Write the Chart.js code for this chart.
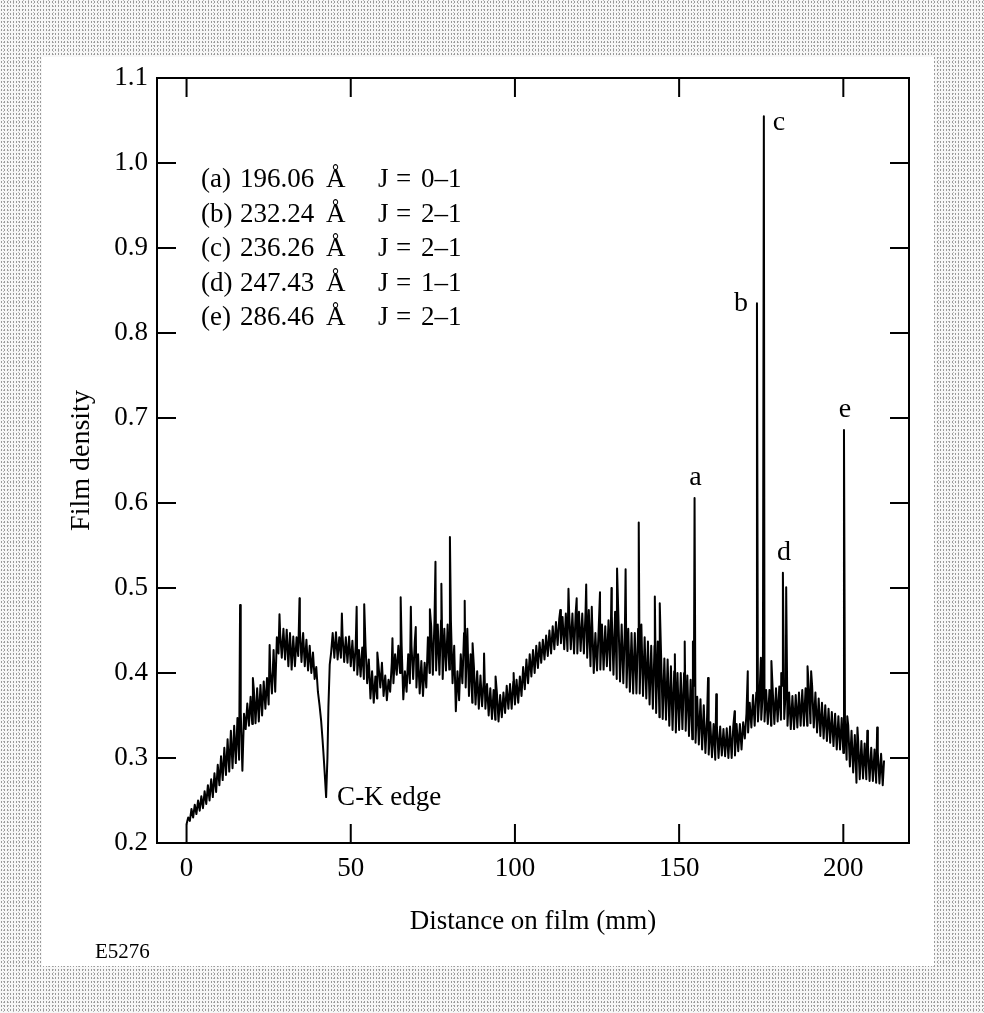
<!DOCTYPE html>
<html>
<head>
<meta charset="utf-8">
<title>Film density vs distance on film</title>
<script src="https://cdn.jsdelivr.net/npm/chart.js@4.4.0/dist/chart.umd.min.js"></script>
<style>
  html, body { margin: 0; padding: 0; }
  body {
    width: 984px; height: 1013px; position: relative; overflow: hidden;
    background:
      radial-gradient(circle, #9a9a9a 0.55px, transparent 0.9px) 0 0 / 3px 4px,
      radial-gradient(circle, #b8b8b8 0.55px, transparent 0.9px) 1px 2px / 5px 3px,
      #f7f7f7;
  }
  #panel { position: absolute; left: 42px; top: 57px; width: 892px; height: 909px; background: #fff; }
  #filmChart { position: absolute; left: 0; top: 0; }
</style>
</head>
<body>
<div id="panel"></div>
<canvas id="filmChart" width="984" height="1013"></canvas>
<script>
// axis ticks
const xTicks = [0, 50, 100, 150, 200];
const xTickLabels = ['0', '50', '100', '150', '200'];
const yTicks = [0.2, 0.3, 0.4, 0.5, 0.6, 0.7, 0.8, 0.9, 1.0, 1.1];
const yTickLabels = ['0.2', '0.3', '0.4', '0.5', '0.6', '0.7', '0.8', '0.9', '1.0', '1.1'];

// noisy trace: [distance mm, film density], low/high every 0.5 mm
const bandPoints = [
  [0,.222],[0.5,.230],[1,.226],[1.5,.240],[2,.230],[2.5,.245],[3,.234],[3.5,.250],[4,.238],[4.5,.255],
  [5,.241],[5.5,.261],[6,.246],[6.5,.268],[7,.250],[7.5,.275],[8,.254],[8.5,.282],[9,.260],[9.5,.292],
  [10,.268],[10.5,.302],[11,.274],[11.5,.312],[12,.280],[12.5,.322],[13,.284],[13.5,.332],[14,.288],[14.5,.338],
  [15,.294],[15.5,.347],[16,.298],[16.5,.354],[17,.285],[17.5,.352],[18,.334],[18.5,.364],[19,.338],[19.5,.372],
  [20,.340],[20.5,.380],[21,.341],[21.5,.382],[22,.343],[22.5,.386],[23,.350],[23.5,.390],[24,.358],[24.5,.394],
  [25,.363],[25.5,.402],[26,.376],[26.5,.427],[27,.378],[27.5,.442],[28,.423],[28.5,.447],[29,.418],[29.5,.452],
  [30,.416],[30.5,.451],[31,.408],[31.5,.447],[32,.404],[32.5,.443],[33,.408],[33.5,.442],[34,.420],[34.5,.451],
  [35,.413],[35.5,.447],[36,.408],[36.5,.439],[37,.403],[37.5,.432],[38,.400],[38.5,.424],[39,.393],[39.5,.407],
  [40,.378],[40.5,.362],[41,.343],[41.4,.322],[41.7,.305],[42.1,.280],[42.5,.254],[42.9,.300],[43.2,.360],[43.6,.410],
  [44,.423],[44.5,.447],[45,.418],[45.5,.448],[46,.416],[46.5,.442],[47,.418],[47.5,.444],[48,.413],[48.5,.442],
  [49,.412],[49.5,.443],
  [50,.408],[50.5,.438],[51,.403],[51.5,.432],[52,.398],[52.5,.427],[53,.396],[53.5,.430],[54,.393],[54.5,.432],
  [55,.388],[55.5,.416],[56,.370],[56.5,.402],[57,.365],[57.5,.396],[58,.370],[58.5,.407],[59,.383],[59.5,.412],
  [60,.373],[60.5,.397],[61,.368],[61.5,.392],[62,.378],[62.5,.412],[63,.388],[63.5,.422],[64,.398],[64.5,.432],
  [65,.400],[65.5,.432],[66,.369],[66.5,.402],[67,.378],[67.5,.422],[68,.388],[68.5,.432],[69,.393],[69.5,.437],
  [70,.383],[70.5,.422],[71,.376],[71.5,.414],[72,.373],[72.5,.412],[73,.383],[73.5,.442],[74,.400],[74.5,.455],
  [75,.398],[75.5,.462],[76,.403],[76.5,.457],[77,.398],[77.5,.462],[78,.393],[78.5,.452],[79,.403],[79.5,.457],
  [80,.404],[80.5,.462],[81,.388],[81.5,.432],[82,.355],[82.5,.402],[83,.368],[83.5,.422],[84,.388],[84.5,.447],
  [85,.383],[85.5,.452],[86,.373],[86.5,.422],[87,.365],[87.5,.408],[88,.363],[88.5,.402],[89,.358],[89.5,.397],
  [90,.361],[90.5,.392],[91,.358],[91.5,.387],[92,.350],[92.5,.382],[93,.346],[93.5,.380],[94,.345],[94.5,.377],
  [95,.343],[95.5,.374],[96,.348],[96.5,.377],[97,.353],[97.5,.385],[98,.358],[98.5,.387],[99,.358],[99.5,.390],
  [100,.363],[100.5,.392],[101,.365],[101.5,.396],[102,.373],[102.5,.407],[103,.381],[103.5,.416],[104,.388],[104.5,.422],
  [105,.396],[105.5,.427],[106,.400],[106.5,.432],[107,.406],[107.5,.436],[108,.412],[108.5,.439],[109,.416],[109.5,.444],
  [110,.420],[110.5,.450],[111,.423],[111.5,.455],[112,.428],[112.5,.460],[113,.433],[113.5,.464],[114,.435],[114.5,.466],
  [115,.428],[115.5,.470],[116,.426],[116.5,.472],[117,.428],[117.5,.470],[118,.423],[118.5,.471],[119,.423],[119.5,.472],
  [120,.426],[120.5,.470],[121,.423],[121.5,.472],[122,.418],[122.5,.474],[123,.408],[123.5,.462],[124,.400],[124.5,.447],
  [125,.403],[125.5,.452],[126,.404],[126.5,.457],[127,.404],[127.5,.455],[128,.408],[128.5,.462],[129,.403],[129.5,.467],
  [130,.398],[130.5,.472],[131,.393],[131.5,.467],[132,.390],[132.5,.457],[133,.388],[133.5,.457],[134,.383],[134.5,.452],
  [135,.378],[135.5,.447],[136,.376],[136.5,.447],[137,.376],[137.5,.452],[138,.376],[138.5,.457],[139,.373],[139.5,.442],
  [140,.370],[140.5,.437],[141,.363],[141.5,.432],[142,.358],[142.5,.432],[143,.353],[143.5,.437],[144,.348],[144.5,.422],
  [145,.346],[145.5,.417],[146,.345],[146.5,.416],[147,.338],[147.5,.408],[148,.333],[148.5,.402],[149,.330],[149.5,.400],
  [150,.333],[150.5,.400],[151,.334],[151.5,.400],[152,.332],[152.5,.397],[153,.326],[153.5,.392],[154,.322],[154.5,.385],
  [155,.318],[155.5,.372],[156,.316],[156.5,.369],[157,.310],[157.5,.362],[158,.306],[158.5,.347],[159,.304],[159.5,.342],
  [160,.301],[160.5,.340],[161,.298],[161.5,.338],[162,.300],[162.5,.337],[163,.303],[163.5,.334],[164,.302],[164.5,.335],
  [165,.300],[165.5,.337],[166,.300],[166.5,.338],[167,.303],[167.5,.340],[168,.308],[168.5,.340],[169,.310],[169.5,.342],
  [170,.323],[170.5,.352],[171,.330],[171.5,.365],[172,.336],[172.5,.374],[173,.338],[173.5,.377],[174,.343],[174.5,.377],
  [175,.345],[175.5,.377],[176,.343],[176.5,.380],[177,.340],[177.5,.380],[178,.338],[178.5,.380],[179,.340],[179.5,.382],
  [180,.343],[180.5,.384],[181,.345],[181.5,.385],[182,.346],[182.5,.382],[183,.338],[183.5,.377],[184,.334],[184.5,.373],
  [185,.334],[185.5,.374],[186,.336],[186.5,.377],[187,.338],[187.5,.380],[188,.338],[188.5,.382],[189,.338],[189.5,.382],
  [190,.341],[190.5,.385],[191,.336],[191.5,.377],[192,.330],[192.5,.370],[193,.326],[193.5,.365],[194,.323],[194.5,.362],
  [195,.320],[195.5,.358],[196,.318],[196.5,.354],[197,.314],[197.5,.352],[198,.310],[198.5,.349],[199,.310],[199.5,.347],
  [200,.306],[200.5,.344],[201,.298],[201.5,.338],[202,.290],[202.5,.332],[203,.283],[203.5,.327],[204,.271],[204.5,.322],
  [205,.275],[205.5,.320],[206,.276],[206.5,.317],[207,.275],[207.5,.314],[208,.273],[208.5,.312],[209,.273],[209.5,.310],
  [210,.271],[210.5,.307],[211,.270],[211.5,.305],[212,.268],[212.4,.297]
];

// narrow unlabelled spikes: [distance mm, peak density]
const spikePoints = [
  [16.3,.480],[20.2,.394],[25.3,.433],[28.3,.469],[34.4,.488],[47.3,.470],[51.8,.478],[54.1,.481],
  [58.1,.424],[62.7,.441],[65.2,.489],[68.3,.478],[69.8,.454],[74.1,.475],[75.8,.531],[77.6,.505],
  [80.2,.560],[84.7,.485],[87.1,.435],[90.6,.423],[94.1,.396],[99.6,.400],[113.8,.474],[116.3,.499],
  [118.8,.488],[121.7,.504],[123.4,.478],[125.9,.495],[129.4,.500],[131.1,.523],[133.7,.522],[137.7,.577],
  [142.6,.490],[144.1,.482],[148.7,.422],[151.7,.437],[154.2,.437],[158.8,.394],[161.3,.375],[166.9,.355],
  [170.9,.402],[174.9,.418],[178.1,.414],[181.1,.400],[182.6,.501],[189.1,.408],[190.2,.402],[201.2,.349],
  [204.3,.336],[207.3,.332],[210.3,.336]
];

// labelled emission lines
const lineLetters = ['a', 'b', 'c', 'd', 'e'];
const lineDistance = [154.7, 173.7, 175.8, 181.6, 200.2];
const lineDensity = [0.606, 0.835, 1.055, 0.518, 0.686];

// key in the upper left
const legendTags = ['(a)', '(b)', '(c)', '(d)', '(e)'];
const legendWavelengths = ['196.06', '232.24', '236.26', '247.43', '286.46'];
const legendJ = ['0–1', '2–1', '2–1', '1–1', '2–1'];

const edgeNote = 'C-K edge';
const edgeAt = [42.5, 0.254];
const figureId = 'E5276';

const SERIF = "'Liberation Serif', 'Times New Roman', serif";

const trace = bandPoints
  .concat(spikePoints, lineDistance.map((d, i) => [d, lineDensity[i]]))
  .sort((p, q) => p[0] - q[0])
  .map(p => ({ x: p[0], y: p[1] }));

// frame with inward ticks on all four sides
const frameTicks = {
  id: 'frameTicks',
  afterDatasetsDraw(chart) {
    const { ctx, chartArea: a, scales: { x, y } } = chart;
    ctx.save();
    ctx.strokeStyle = '#000';
    ctx.lineWidth = 2;
    ctx.strokeRect(a.left, a.top, a.right - a.left, a.bottom - a.top);
    ctx.beginPath();
    xTicks.forEach(v => {
      const px = x.getPixelForValue(v);
      ctx.moveTo(px, a.bottom); ctx.lineTo(px, a.bottom - 19);
      ctx.moveTo(px, a.top); ctx.lineTo(px, a.top + 19);
    });
    yTicks.forEach(v => {
      const py = y.getPixelForValue(v);
      ctx.moveTo(a.left, py); ctx.lineTo(a.left + 19, py);
      ctx.moveTo(a.right, py); ctx.lineTo(a.right - 19, py);
    });
    ctx.stroke();
    ctx.restore();
  }
};

// letters, key, edge note, figure number
const annotations = {
  id: 'annotations',
  afterDraw(chart) {
    const { ctx, scales: { x, y } } = chart;
    ctx.save();
    ctx.fillStyle = '#000';

    // line letters
    ctx.font = `28px ${SERIF}`;
    lineLetters.forEach((t, i) => {
      const px = x.getPixelForValue(lineDistance[i]);
      const py = y.getPixelForValue(lineDensity[i]);
      if (t === 'b') {
        ctx.textAlign = 'right'; ctx.textBaseline = 'middle';
        ctx.fillText(t, px - 9, py);
      } else if (t === 'c') {
        ctx.textAlign = 'left'; ctx.textBaseline = 'middle';
        ctx.fillText(t, px + 9, py + 6);
      } else {
        ctx.textAlign = 'center'; ctx.textBaseline = 'middle';
        ctx.fillText(t, px + 1, py - 20);
      }
    });

    // key
    ctx.font = `27px ${SERIF}`;
    ctx.textAlign = 'left';
    ctx.textBaseline = 'alphabetic';
    legendTags.forEach((tag, i) => {
      const base = 187 + i * 34.6;
      ctx.fillText(tag, 201, base);
      ctx.fillText(legendWavelengths[i], 240, base);
      ctx.fillText('Å', 326, base);
      ctx.fillText('J', 378, base);
      ctx.fillText('=', 396, base);
      ctx.fillText(legendJ[i], 421, base);
    });

    // absorption edge note
    ctx.font = `27px ${SERIF}`;
    ctx.fillText(edgeNote, x.getPixelForValue(edgeAt[0]) + 11, y.getPixelForValue(edgeAt[1]) + 8);

    // figure number
    ctx.font = `21px ${SERIF}`;
    ctx.fillText(figureId, 95, 958);
    ctx.restore();
  }
};

Chart.defaults.font.family = SERIF;
Chart.defaults.color = '#000';

new Chart(document.getElementById('filmChart'), {
  type: 'line',
  data: {
    datasets: [{
      label: 'Film density',
      data: trace,
      borderColor: '#000',
      borderWidth: 2,
      borderJoinStyle: 'round',
      pointRadius: 0,
      tension: 0,
      fill: false
    }]
  },
  options: {
    responsive: false,
    animation: false,
    devicePixelRatio: 1,
    layout: { padding: { left: 56, right: 75, top: 78, bottom: 75 } },
    plugins: { legend: { display: false }, tooltip: { enabled: false } },
    scales: {
      x: {
        type: 'linear',
        min: -9,
        max: 220,
        grid: { display: false, drawTicks: false },
        border: { display: false },
        afterBuildTicks: s => { s.ticks = xTicks.map(v => ({ value: v })); },
        afterFit: s => { s.height = 95; },
        ticks: {
          padding: 10,
          maxRotation: 0,
          font: { size: 27 },
          callback: (v, i) => xTickLabels[i]
        },
        title: { display: true, text: 'Distance on film (mm)', font: { size: 27 }, padding: 0 }
      },
      y: {
        min: 0.2,
        max: 1.1,
        grid: { display: false, drawTicks: false },
        border: { display: false },
        afterBuildTicks: s => { s.ticks = yTicks.map(v => ({ value: v })); },
        afterFit: s => { s.width = 101; },
        ticks: {
          padding: 9,
          font: { size: 27 },
          callback: (v, i) => yTickLabels[i]
        },
        title: { display: true, text: 'Film density', font: { size: 28 }, padding: { top: 9, bottom: 0 } }
      }
    }
  },
  plugins: [frameTicks, annotations]
});
</script>
</body>
</html>
